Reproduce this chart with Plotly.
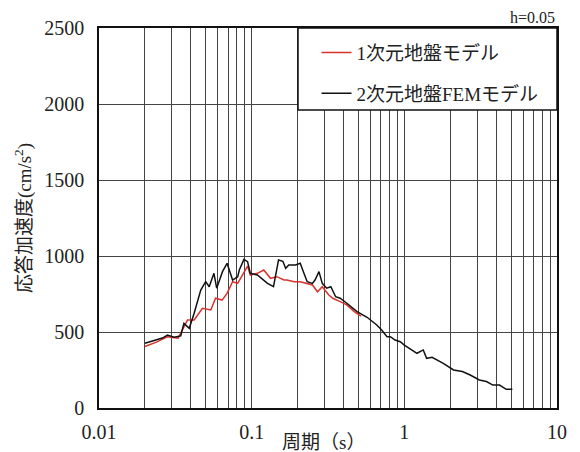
import plotly.graph_objects as go

# 1次元地盤モデル (red)
period_1d = [0.020, 0.024, 0.028, 0.033, 0.038, 0.042, 0.0476, 0.054, 0.058, 0.064,
             0.069, 0.075, 0.081, 0.087, 0.094, 0.098, 0.109, 0.120, 0.133, 0.146,
             0.163, 0.170, 0.190, 0.208, 0.230, 0.250, 0.270, 0.290, 0.320, 0.340,
             0.380, 0.420, 0.470, 0.520]
acc_1d = [405, 435, 469, 460, 579, 579, 656, 645, 722, 710,
          754, 831, 820, 875, 934, 875, 886, 908, 853, 864,
          842, 842, 831, 831, 820, 809, 765, 798, 743, 722,
          700, 678, 634, 605]

# 2次元地盤FEMモデル (black)
period_2d = [0.020, 0.0225, 0.0242, 0.026, 0.0281, 0.031, 0.0343, 0.036, 0.039, 0.042,
             0.0464, 0.050, 0.0527, 0.0566, 0.059, 0.0644, 0.069, 0.075, 0.081, 0.083,
             0.089, 0.094, 0.098, 0.109, 0.127, 0.139, 0.150, 0.160, 0.167, 0.175,
             0.194, 0.208, 0.220, 0.231, 0.250, 0.260, 0.276, 0.290, 0.310, 0.330,
             0.355, 0.380, 0.420, 0.490, 0.570, 0.660, 0.710, 0.770, 0.810, 0.870,
             0.940, 1.00, 1.21, 1.33, 1.40, 1.52, 1.80, 2.10, 2.40, 2.70,
             3.10, 3.45, 3.80, 4.20, 4.65, 5.10]
acc_2d = [426, 440, 452, 460, 480, 465, 474, 557, 524, 623,
          776, 831, 798, 886, 788, 897, 952, 842, 864, 908,
          978, 963, 886, 875, 820, 798, 974, 965, 919, 941,
          941, 952, 886, 831, 820, 842, 897, 820, 788, 798,
          732, 722, 689, 634, 597, 546, 513, 469, 469, 447,
          436, 414, 360, 382, 327, 333, 294, 250, 240, 217,
          184, 174, 151, 151, 123, 123]

x_ticks = [0.01, 0.1, 1, 10]
x_ticktext = ["0.01", "0.1", "1", "10"]
y_ticks = [0, 500, 1000, 1500, 2000, 2500]

FONT = "Liberation Serif, Noto Sans CJK JP"
GRID = "#444444"

fig = go.Figure()
fig.add_trace(go.Scatter(x=period_1d, y=acc_1d, mode="lines", name="1次元地盤モデル",
                         line=dict(color="#d8322c", width=1.5), legendgroup="a"))
fig.add_trace(go.Scatter(x=period_2d, y=acc_2d, mode="lines", name="2次元地盤FEMモデル",
                         line=dict(color="#111111", width=1.5), legendgroup="b"))

# page body has an 8px margin, so the figure is sized/offset to fit the window
fig.update_layout(
    width=572, height=444,
    margin=dict(l=91, r=23, t=20, b=44),
    paper_bgcolor="white", plot_bgcolor="white",
    font=dict(family=FONT, size=20, color="#222"),
    showlegend=True,
    legend=dict(x=0.475, xanchor="left", y=0.985, yanchor="top",
                bgcolor="rgba(0,0,0,0)", borderwidth=0,
                tracegroupgap=13, font=dict(size=19, family=FONT)),
    shapes=[dict(type="rect", xref="paper", yref="paper",
                 x0=0.4345, x1=1, y0=0.784, y1=1,
                 fillcolor="white", line=dict(color="#111", width=1.5), layer="above")],
    annotations=[
        dict(text="h=0.05", x=1, xref="paper", xanchor="right",
             y=1, yref="paper", yanchor="bottom", yshift=0,
             showarrow=False, font=dict(size=16, family=FONT)),
        dict(text="周期（s）", x=0.49, xref="paper", xanchor="center",
             y=0, yref="paper", yanchor="top", yshift=-22,
             showarrow=False, font=dict(size=19, family=FONT)),
    ],
)
fig.update_xaxes(
    type="log", range=[-2, 1], automargin=False,
    tickvals=x_ticks, ticktext=x_ticktext, ticks="", ticklabelstandoff=5,
    showgrid=True, gridcolor=GRID, gridwidth=1.3,
    minor=dict(dtick="D1", showgrid=True, gridcolor=GRID, gridwidth=1.3, ticks=""),
    showline=True, linecolor="#111", linewidth=1.5, mirror=True,
)
fig.update_yaxes(
    range=[0, 2500], tickvals=y_ticks, ticks="", automargin=False,
    showgrid=True, gridcolor=GRID, gridwidth=1.3, zeroline=False,
    showline=True, linecolor="#111", linewidth=1.5, mirror=True,
    ticklabelstandoff=9,
    title=dict(text="応答加速度(cm/s<sup>2</sup>)", standoff=8, font=dict(size=19)),
)

fig.write_html("out.html")
